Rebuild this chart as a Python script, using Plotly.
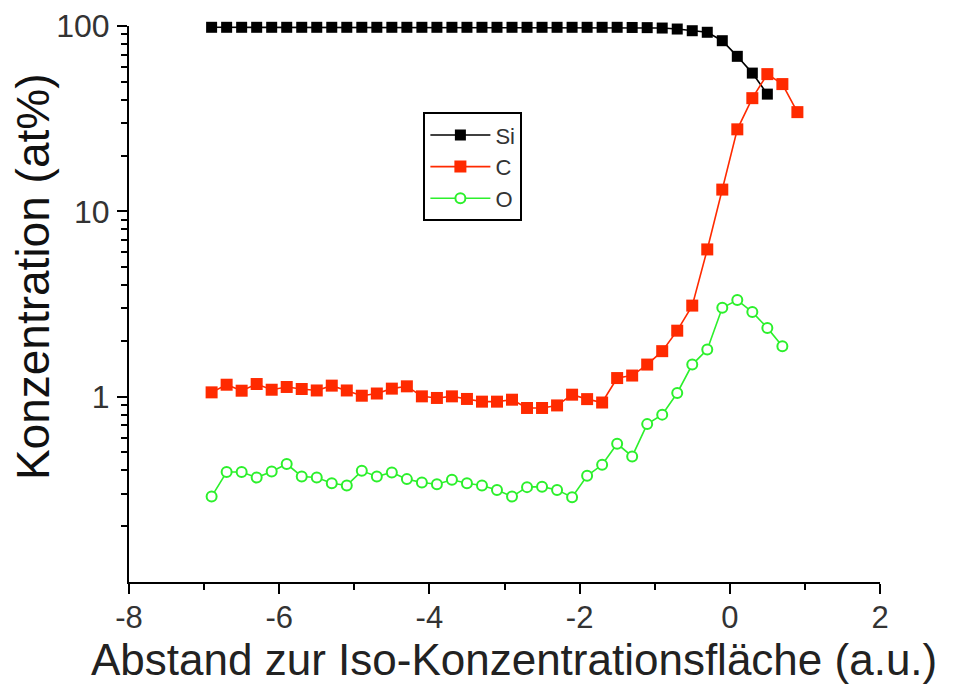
import plotly.graph_objects as go

# ---- data ----
x_si = [-6.9, -6.7, -6.5, -6.3, -6.1, -5.9, -5.7, -5.5, -5.3, -5.1,
        -4.9, -4.7, -4.5, -4.3, -4.1, -3.9, -3.7, -3.5, -3.3, -3.1,
        -2.9, -2.7, -2.5, -2.3, -2.1, -1.9, -1.7, -1.5, -1.3, -1.1,
        -0.9, -0.7, -0.5, -0.3, -0.1, 0.1, 0.3, 0.5]
si = [98.4, 98.4, 98.4, 98.4, 98.4, 98.4, 98.4, 98.4, 98.4, 98.4,
      98.4, 98.4, 98.4, 98.4, 98.4, 98.4, 98.4, 98.4, 98.4, 98.4,
      98.4, 98.4, 98.4, 98.4, 98.4, 98.4, 98.4, 98.4, 98.2, 98.0,
      97.5, 96.3, 94.3, 92.5, 83.3, 68.6, 55.7, 42.9]

x_c = [-6.9, -6.7, -6.5, -6.3, -6.1, -5.9, -5.7, -5.5, -5.3, -5.1,
       -4.9, -4.7, -4.5, -4.3, -4.1, -3.9, -3.7, -3.5, -3.3, -3.1,
       -2.9, -2.7, -2.5, -2.3, -2.1, -1.9, -1.7, -1.5, -1.3, -1.1,
       -0.9, -0.7, -0.5, -0.3, -0.1, 0.1, 0.3, 0.5, 0.7, 0.9]
c = [1.055, 1.16, 1.077, 1.17, 1.09, 1.128, 1.10, 1.08, 1.147, 1.08,
     1.012, 1.04, 1.105, 1.137, 1.004, 0.984, 1.004, 0.972, 0.94, 0.94,
     0.963, 0.869, 0.869, 0.897, 1.025, 0.97, 0.93, 1.26, 1.30, 1.49,
     1.76, 2.27, 3.10, 6.23, 13.1, 27.7, 40.8, 55.0, 48.6, 34.3]

x_o = [-6.9, -6.7, -6.5, -6.3, -6.1, -5.9, -5.7, -5.5, -5.3, -5.1,
       -4.9, -4.7, -4.5, -4.3, -4.1, -3.9, -3.7, -3.5, -3.3, -3.1,
       -2.9, -2.7, -2.5, -2.3, -2.1, -1.9, -1.7, -1.5, -1.3, -1.1,
       -0.9, -0.7, -0.5, -0.3, -0.1, 0.1, 0.3, 0.5, 0.7]
o = [0.289, 0.392, 0.392, 0.366, 0.395, 0.433, 0.371, 0.366, 0.341, 0.332,
     0.398, 0.371, 0.39, 0.359, 0.344, 0.337, 0.356, 0.341, 0.332, 0.314,
     0.289, 0.325, 0.327, 0.314, 0.287, 0.374, 0.429, 0.557, 0.476, 0.711,
     0.80, 1.047, 1.49, 1.795, 3.02, 3.32, 2.86, 2.35, 1.87]

x_ticks = [-8, -6, -4, -2, 0, 2]
x_tick_labels = ["-8", "-6", "-4", "-2", "0", "2"]
y_ticks = [1, 10, 100]
y_tick_labels = ["1", "10", "100"]
y_minor = [0.2, 0.3, 0.4, 0.5, 0.6, 0.7, 0.8, 0.9,
           2, 3, 4, 5, 6, 7, 8, 9,
           20, 30, 40, 50, 60, 70, 80, 90]

x_title = "Abstand zur Iso-Konzentrationsfläche (a.u.)"
y_title = "Konzentration (at%)"

FONT = "Liberation Sans, Arial, sans-serif"

fig = go.Figure()
fig.add_trace(go.Scatter(
    x=x_si, y=si, name="Si", mode="lines+markers",
    line=dict(color="black", width=1.6),
    marker=dict(symbol="square", size=11, color="black"),
    cliponaxis=False))
fig.add_trace(go.Scatter(
    x=x_c, y=c, name="C", mode="lines+markers",
    line=dict(color="#ff2a00", width=1.6),
    marker=dict(symbol="square", size=12, color="#ff2a00"),
    cliponaxis=False))
fig.add_trace(go.Scatter(
    x=x_o, y=o, name="O", mode="lines+markers",
    line=dict(color="#2cf02c", width=1.6),
    marker=dict(symbol="circle", size=10, color="white",
                line=dict(color="#2cf02c", width=2)),
    cliponaxis=False))

fig.update_layout(
    width=957, height=688,
    margin=dict(l=129, r=77, t=26, b=106, autoexpand=False),
    paper_bgcolor="white", plot_bgcolor="white",
    font=dict(family=FONT, color="#222"),
    showlegend=True,
    legend=dict(x=0.392, y=0.845, xanchor="left", yanchor="top",
                bordercolor="black", borderwidth=2, bgcolor="white",
                font=dict(size=22, color="#333"), itemwidth=60,
                tracegroupgap=0),
    annotations=[
        dict(text=x_title, xref="paper", yref="paper", x=0.513, y=-0.140,
             xanchor="center", yanchor="middle", showarrow=False,
             font=dict(size=44, color="#222")),
        dict(text=y_title, xref="paper", yref="paper", x=-0.128, y=0.55,
             xanchor="center", yanchor="middle", showarrow=False, textangle=-90,
             font=dict(size=46, color="#111")),
    ],
)
fig.update_xaxes(
    range=[-8, 2], tickvals=x_ticks, ticktext=x_tick_labels,
    ticks="outside", ticklen=10, tickwidth=2, ticklabelstandoff=-3,
    tickcolor="black", showline=True, linecolor="black", linewidth=2,
    showgrid=False, zeroline=False, mirror=False, automargin=False,
    tickfont=dict(size=31, color="#333"),
    minor=dict(ticks="outside", ticklen=6, tickwidth=2, tickcolor="black", dtick=1),
)
fig.update_yaxes(
    type="log", range=[-1, 2], tickvals=y_ticks, ticktext=y_tick_labels,
    ticks="outside", ticklen=10, tickwidth=2, tickcolor="black",
    showline=True, linecolor="black", linewidth=2, ticklabelstandoff=1,
    showgrid=False, zeroline=False, mirror=False, automargin=False,
    tickfont=dict(size=32, color="#333"),
    minor=dict(ticks="outside", ticklen=6, tickwidth=2, tickcolor="black",
               tickvals=y_minor),
)

fig.write_html("out.html", config={"displayModeBar": False},
               post_script="document.body.style.margin='0';document.body.style.overflow='hidden';")
